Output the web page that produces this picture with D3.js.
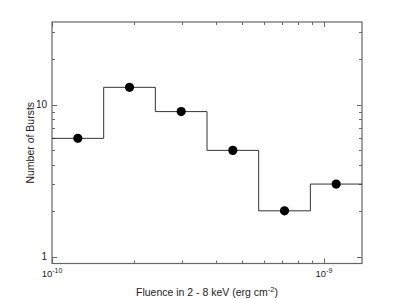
<!DOCTYPE html>
<html><head><meta charset="utf-8">
<script src="https://cdn.jsdelivr.net/npm/d3@7"></script>
<style>body{margin:0;background:#fff}svg{display:block}text{font-family:"Liberation Sans",Arial,sans-serif}</style>
</head><body>
<svg id="c" width="399" height="299"></svg>
<script>
// bin edges (erg cm^-2), counts per bin
const binEdges = [1.0e-10, 1.549e-10, 2.399e-10, 3.715e-10, 5.754e-10, 8.913e-10, 1.380e-9];
const counts = [6, 13, 9, 5, 2, 3];
const xTickValues = [1e-10,2e-10,3e-10,4e-10,5e-10,6e-10,7e-10,8e-10,9e-10,1e-9];
const xTickLabels = [{v:1e-10, exp:"-10"}, {v:1e-9, exp:"-9"}];
const yTickValues = [1,2,3,4,5,6,7,8,9,10,20,30];
const yTickLabels = [1, 10];
const xDomain = [1e-10, 1.38e-9];
const yDomain = [0.9, 35];

const svg = d3.select("#c");
const L=52, R=362, T=22, B=263.5;
const x = d3.scaleLog().domain(xDomain).range([L, R]);
const y = d3.scaleLog().domain(yDomain).range([B, T]);
const frame = "#666";

// minor/major ticks inward on all sides
const g = svg.append("g");
xTickValues.forEach(v=>{
  const major = (v===1e-10||v===1e-9);
  const len = major?5:3;
  const px = Math.round(x(v))+0.5;
  g.append("line").attr("x1",px).attr("x2",px).attr("y1",B).attr("y2",B-len).attr("stroke",frame);
  g.append("line").attr("x1",px).attr("x2",px).attr("y1",T).attr("y2",T+len).attr("stroke",frame);
});
yTickValues.forEach(v=>{
  const major = (v===1||v===10);
  const len = major?5:3;
  const py = Math.round(y(v))+0.5;
  g.append("line").attr("x1",L).attr("x2",L+len).attr("y1",py).attr("y2",py).attr("stroke",frame);
  g.append("line").attr("x1",R).attr("x2",R-len).attr("y1",py).attr("y2",py).attr("stroke",frame);
});
svg.append("rect").attr("x",L).attr("y",T).attr("width",R-L).attr("height",B-T)
  .attr("fill","none").attr("stroke",frame).attr("stroke-width",1.2);

// step histogram
const steps = [];
counts.forEach((c,i)=>{ steps.push([binEdges[i],c]); steps.push([binEdges[i+1],c]); });
const line = d3.line().x(d=>x(d[0])).y(d=>y(d[1]));
svg.append("path").attr("d",line(steps)).attr("fill","none").attr("stroke","#333").attr("stroke-width",1);

// points at geometric bin centers
svg.selectAll("circle.pt").data(counts).join("circle")
  .attr("cx",(d,i)=>x(Math.sqrt(binEdges[i]*binEdges[i+1])))
  .attr("cy",d=>y(d)).attr("r",4.6).attr("fill","#000");

// y tick labels
yTickLabels.forEach(v=>{
  svg.append("text").attr("x",L-5).attr("y",y(v)+3.5).attr("text-anchor","end")
    .attr("font-size",10).attr("fill","#222").text(v);
});
// x tick labels
xTickLabels.forEach(t=>{
  const tx = svg.append("text").attr("x",x(t.v)).attr("y",277).attr("text-anchor","middle")
    .attr("font-size",9.5).attr("fill","#222");
  tx.append("tspan").text("10");
  tx.append("tspan").attr("dy",-4).attr("font-size",7).text(t.exp);
});
// axis titles
const xt = svg.append("text").attr("x",(L+R)/2).attr("y",296).attr("text-anchor","middle")
  .attr("font-size",10.5).attr("fill","#222");
xt.append("tspan").text("Fluence in 2 - 8 keV (erg cm");
xt.append("tspan").attr("dy",-4).attr("font-size",7.5).text("-2");
xt.append("tspan").attr("dy",4).text(")");
svg.append("text").attr("transform",`translate(34,${(T+B)/2}) rotate(-90)`).attr("text-anchor","middle")
  .attr("font-size",10.5).attr("fill","#222").text("Number of Bursts");
</script>
</body></html>
